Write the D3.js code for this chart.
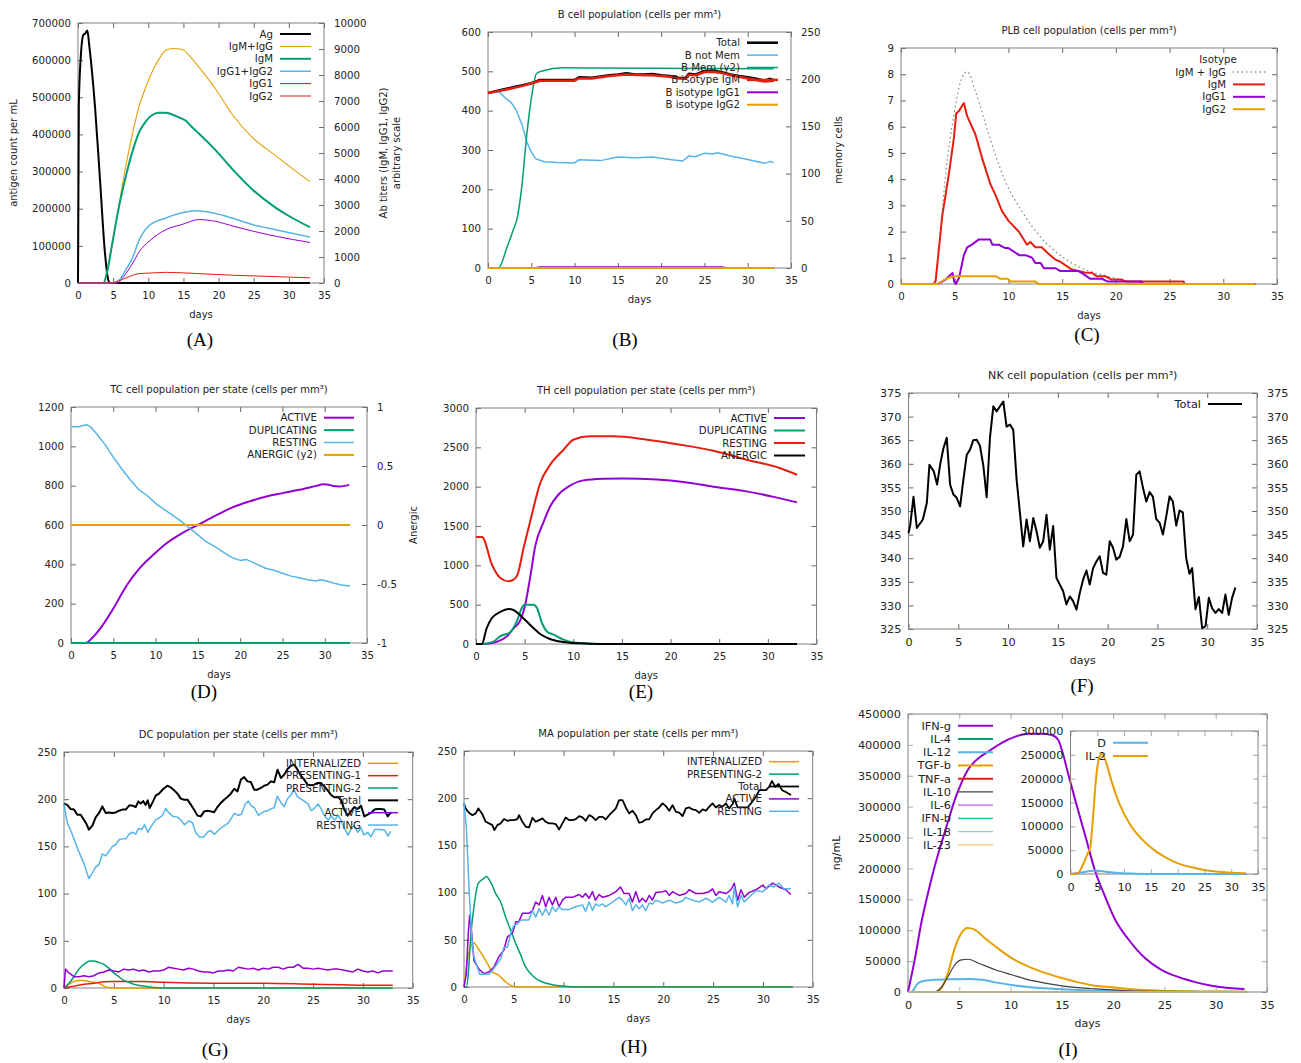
<!DOCTYPE html>
<html>
<head>
<meta charset="utf-8">
<script src="https://cdn.jsdelivr.net/npm/d3@7"></script>
<style>
  body { margin: 0; background: #fff; }
  text { font-family: "DejaVu Sans", sans-serif; fill: #222; }
  .letter { font-family: "Liberation Serif", serif; font-size: 19px; fill: #000; }
</style>
</head>
<body>
<div id="fig"></div>
<script>
// ---- ticks ----
const dayTicks = [0, 5, 10, 15, 20, 25, 30, 35];
const abLeftTicks = [0, 100000, 200000, 300000, 400000, 500000, 600000, 700000];
const abRightTicks = [0, 1000, 2000, 3000, 4000, 5000, 6000, 7000, 8000, 9000, 10000];
const bLeftTicks = [0, 100, 200, 300, 400, 500, 600];
const bRightTicks = [0, 50, 100, 150, 200, 250];
const plbTicks = [0, 1, 2, 3, 4, 5, 6, 7, 8, 9];
const tcTicks = [0, 200, 400, 600, 800, 1000, 1200];
const tcRightTicks = [-1, -0.5, 0, 0.5, 1];
const thTicks = [0, 500, 1000, 1500, 2000, 2500, 3000];
const nkTicks = [325, 330, 335, 340, 345, 350, 355, 360, 365, 370, 375];
const dcTicks = [0, 50, 100, 150, 200, 250];
const cyTicks = [0, 50000, 100000, 150000, 200000, 250000, 300000, 350000, 400000, 450000];
const insetTicks = [0, 50000, 100000, 150000, 200000, 250000, 300000];

// ---- (A) antigen / antibodies ----
const abAg = [[0,0],[0.12,480000],[0.4,610000],[0.76,668000],[1.05,672000],[1.33,680000],[1.6,640000],[2.42,475000],[3.13,278000],[3.84,80000],[4.3,9000],[4.55,0],[33,0]];
const abIgMIgG = [[0,0],[3.6,0],[4.2,500],[4.8,1400],[5.8,2950],[6.8,4500],[7.8,5800],[8.7,6800],[9.6,7500],[10.5,8100],[11.5,8600],[12.5,8950],[13.5,9020],[14.8,8980],[16,8700],[17.2,8300],[19.6,7450],[21.9,6500],[24.8,5600],[28.1,4900],[30.5,4400],[33,3900]];
const abIgM = [[0,0],[3.6,0],[4.2,500],[4.8,1400],[5.8,2900],[6.8,4100],[7.8,5100],[8.7,5800],[9.6,6200],[10.5,6450],[11.5,6550],[12.5,6550],[13.4,6480],[14.5,6350],[15.3,6250],[16.2,6000],[17.2,5750],[19.6,5100],[21.9,4400],[24.8,3600],[28.1,2900],[30.5,2500],[33,2150]];
const abIgG12 = [[0,0],[5,0],[6,150],[6.8,500],[7.8,1000],[8.7,1650],[10.1,2200],[12.5,2500],[14.8,2700],[16.8,2780],[19.1,2700],[21.9,2500],[24.8,2250],[28.1,2050],[33,1770]];
const abIgG1 = [[0,0],[5.6,0],[6.5,250],[7.8,770],[8.7,1200],[10.1,1600],[12.5,2050],[14.8,2250],[17.2,2440],[19.6,2370],[21.9,2200],[24.8,2000],[28.1,1800],[33,1560]];
const abIgG2 = [[0,0],[4.8,0],[5.8,80],[6.8,190],[8.7,360],[10.1,380],[12.5,410],[17.2,360],[21.9,300],[26.5,260],[33,200]];

// ---- (B) B cells ----
const bTotal = [[0,445],[1,450],[2,455],[3,460],[4,465],[5,470],[6,478],[8,478],[10,478],[10.5,485],[12,484],[13,487],[14,490],[15,492],[16,495],[17,492],[18,492],[19,493],[20,490],[21,488],[22,484],[22.8,483],[23.2,494],[24,492],[25,501],[26,502],[27,498],[28,492],[29,488],[30,485],[31,481],[32,476],[32.5,481],[33,478]];
const bNotMem = [[0,445],[1.3,448],[2,432],[2.7,420],[3.3,400],[4,360],[4.5,320],[5,295],[5.5,278],[6.5,270],[8,268],[10,267],[10.5,275],[13,273],[15,282],[17,280],[19,282],[21,276],[22.5,272],[23.2,285],[24,283],[25,292],[26,290],[26.5,293],[28,285],[30,276],[32,266],[32.6,271],[33,268]];
const bMem = [[0,0],[1.2,0],[2.2,22],[2.9,40],[3.4,54],[3.9,86],[4.5,143],[5.1,185],[5.6,206],[6.4,209],[8.6,212],[33,211]];
const bIgM = [[0,445],[1,449],[2,453],[3,458],[4,463],[5,469],[6,476],[8,476],[10,476],[10.5,482],[12,482],[13,485],[14,488],[15,490],[16,492],[18,490],[19,490],[20,488],[21,486],[22,482],[22.8,481],[23.2,491],[24,490],[25,498],[26,499],[27,496],[28,490],[29,486],[30,482],[31,478],[32,474],[33,476]];
const bIgG1 = [[0,0],[5.5,0],[6,2],[27,2],[27.5,0],[33,0]];
const bIgG2 = [[0,0],[33,0]];

// ---- (C) plasma B cells ----
const plbAll = [[0,0],[3.06,0],[3.5,1.2],[4.15,4.17],[4.92,6.45],[5.7,7.9],[6.16,8.1],[6.93,7.35],[8.17,5.7],[9.72,3.9],[11.26,2.77],[12.8,1.88],[14.36,1.25],[15.9,0.8],[17.45,0.5],[19,0.32],[20.5,0.17],[22.1,0.06],[23.7,0],[33,0]];
const plbIgM = [[0,0],[3.0,0],[3.22,0.1],[3.84,2.6],[4.46,4.2],[4.92,5.56],[5.14,6.5],[5.39,6.6],[5.85,6.9],[6.16,6.4],[6.93,5.7],[7.55,4.8],[8.33,3.8],[8.79,3.4],[9.41,2.77],[10.03,2.4],[10.96,2.0],[11.73,1.5],[12.04,1.6],[12.5,1.4],[13.1,1.4],[13.6,1.2],[14.36,0.93],[14.8,0.86],[15.9,0.55],[17.1,0.44],[17.8,0.42],[18.2,0.3],[19,0.3],[19.6,0.17],[20.5,0.17],[20.9,0.1],[26.3,0.1],[26.4,0],[33,0]];
const plbIgG1 = [[0,0],[3.4,0],[4.15,0.17],[4.8,0.42],[4.95,0.1],[5.1,0],[5.4,0.23],[5.85,1.1],[6.16,1.4],[6.6,1.5],[7.25,1.7],[8.3,1.7],[8.5,1.5],[9.1,1.5],[9.7,1.37],[10,1.37],[11,1.1],[11.6,1.1],[12.2,1.0],[12.5,0.8],[13,0.8],[13.3,0.6],[14.4,0.6],[14.8,0.5],[16.5,0.5],[17.1,0.35],[17.6,0.2],[18.7,0.2],[19.2,0.1],[22.4,0.1],[22.5,0],[33,0]];
const plbIgG2 = [[0,0],[3.4,0],[4.15,0.19],[4.9,0.3],[8.8,0.3],[9.25,0.2],[9.9,0.2],[10.2,0.1],[12.5,0.1],[12.8,0],[33,0]];

// ---- (D) TC cells ----
const tcActive = [[0,0],[1.7,0],[2.5,25],[3.4,70],[5,175],[6.6,294],[8.1,379],[9.7,447],[11.3,507],[13.2,560],[15.2,605],[17.2,650],[19.1,690],[21.1,720],[23.1,745],[25,762],[27,779],[29,799],[29.8,807],[30.5,805],[31,798],[31.7,796],[32.9,804]];
const tcDup = [[0,0],[33,0]];
const tcResting = [[0,1100],[1,1100],[1.3,1105],[1.8,1110],[2.3,1100],[3,1065],[4,1010],[5,945],[6,885],[7,830],[8,780],[9,750],[10,710],[11,680],[12,650],[13,620],[14,585],[15,550],[16,515],[17,490],[18,462],[19,435],[20,420],[20.7,425],[21.5,410],[22,400],[23,380],[24,370],[25,355],[26,340],[27,332],[28,322],[29,315],[29.5,322],[30,318],[31,305],[32,295],[33,290]];
const tcAnergic = [[0,0],[33,0]];

// ---- (E) TH cells ----
const thActive = [[0,0],[0.6,0],[1.5,10],[2.2,30],[3.2,100],[3.86,200],[4.55,300],[5.06,500],[5.57,850],[6.1,1250],[6.94,1550],[7.63,1750],[8.48,1900],[9.5,2000],[11.05,2080],[13.1,2100],[15.2,2105],[18.6,2090],[21.3,2060],[24.4,2000],[27.8,1940],[30.6,1870],[33,1800]];
const thDup = [[0,0],[0.6,0],[1.8,30],[2.5,100],[3.52,150],[4.2,290],[4.72,460],[4.96,500],[5.9,500],[6.26,460],[6.77,270],[7.29,160],[7.97,120],[9,55],[10,20],[11.7,5],[13,0],[33,0]];
const thResting = [[0,1360],[0.62,1360],[1.64,1008],[2.5,839],[3.35,797],[3.86,818],[4.27,881],[4.89,1220],[5.57,1559],[6.6,2046],[7.63,2280],[9,2470],[10,2597],[11.7,2640],[14.1,2640],[17.6,2597],[21,2534],[24.4,2457],[27.8,2343],[31.2,2237],[33,2152]];
const thAnergic = [[0,0],[0.6,0],[1.1,203],[1.64,330],[2.5,407],[3.35,445],[3.86,432],[4.55,364],[5.2,288],[5.9,203],[6.6,127],[7.6,64],[9,25],[10.7,8],[12.4,0],[33,0]];

// ---- (F) NK cells ----
const nkTotal = [[0,345.3],[0.17,347],[0.5,353],[0.84,346.4],[1.44,348.2],[1.84,351.7],[2.1,359.8],[2.54,358.4],[2.87,355.6],[3.21,360.2],[3.51,363.3],[3.84,365.5],[4.18,355.6],[4.51,353.5],[4.84,352.8],[5.18,351],[5.51,356.6],[5.85,361.9],[6.18,363],[6.51,365],[6.85,365.1],[7.18,363.8],[7.52,359.5],[7.85,352.9],[8.18,365.5],[8.52,372.2],[8.85,371.1],[9.19,372.2],[9.52,373.2],[9.85,367.9],[10.19,368.3],[10.52,367.2],[10.86,356.6],[11.19,349.6],[11.52,342.5],[11.86,348.2],[12.19,343.6],[12.53,348.5],[12.86,345.7],[13.19,342.2],[13.53,343.6],[13.86,349.2],[14.19,341.8],[14.53,346.8],[14.86,335.8],[15.2,334.4],[15.53,333],[15.86,330.2],[16.2,331.9],[16.53,330.9],[16.87,329.1],[17.2,332.6],[17.54,335.5],[17.87,337.4],[18.2,334.4],[18.54,337.9],[18.87,339.3],[19.2,340.4],[19.54,336.9],[19.87,336.5],[20.21,343.6],[20.54,342.2],[20.87,339.7],[21.21,340.3],[21.54,342.5],[21.88,348.3],[22.21,343.6],[22.55,345],[22.88,357.7],[23.21,358.4],[23.55,354.9],[23.88,352],[24.22,354],[24.55,353],[24.88,348.3],[25.22,347.5],[25.55,345],[25.89,348.9],[26.22,353.1],[26.55,352],[26.89,346.9],[27.22,350.1],[27.55,349.7],[27.89,340],[28.22,336.7],[28.49,337.9],[28.82,329.2],[29.16,331.8],[29.49,325.2],[29.83,325.6],[30.16,331.6],[30.49,329.4],[30.83,328.4],[31.16,329.2],[31.5,328.4],[31.83,332.3],[32.16,328],[32.5,331.6],[32.83,333.8]];

// ---- (G) DC ----
const dcInternalized = [[0,0],[0.5,4],[1,7],[1.5,8],[2,8],[2.5,7],[3,6],[3.5,5],[4,2],[4.5,0.5],[5,0],[33,0]];
const dcPresenting1 = [[0,0],[1,2],[2,4],[3,5],[4,6.5],[5,7],[8,7],[10,6],[15,5],[20,5],[25,4],[28,3.5],[30,3],[33,3]];
const dcPresenting2 = [[0,0],[0.5,5],[1,12],[1.5,20],[2,25],[2.6,28.5],[3,28.5],[3.5,27],[4,25],[4.5,21],[5,16],[5.5,12],[6,8],[6.5,6],[7,4],[8,2],[9,0.5],[10,0],[33,0]];
const dcTotal = [[0,195.3],[0.33,194],[0.67,189.6],[1,189],[1.34,183.6],[1.67,183.6],[2,178.3],[2.24,174],[2.5,167.7],[2.85,172],[3.18,180.8],[3.52,185.4],[3.85,192.4],[4.19,185.4],[4.52,186],[4.86,185.4],[5.19,186],[5.53,187.8],[5.86,189],[6.2,189],[6.53,193.2],[6.87,193.2],[7.2,191.7],[7.47,197.7],[7.7,195.3],[7.94,198],[8.2,194],[8.4,198.8],[8.6,190.7],[8.94,197.7],[9.2,203.7],[9.54,205.9],[9.95,210.8],[10.38,214.3],[10.7,212.6],[11.05,209.4],[11.39,205.9],[11.72,200.6],[12.06,199.5],[12.39,199.5],[12.73,194.2],[13.06,188.9],[13.4,182.6],[13.73,181.8],[14.07,187.1],[14.4,187.8],[14.74,187.1],[15.07,186.1],[15.4,191.7],[15.74,196],[16.07,199.5],[16.41,202.3],[16.75,205.9],[17.08,211.1],[17.41,208.3],[17.75,220.7],[18.08,223.5],[18.42,218.9],[18.75,218.2],[19.09,210.1],[19.42,210.1],[19.76,211.9],[20.09,214.3],[20.43,215.4],[20.76,218.9],[21.1,217.9],[21.43,231.3],[21.77,222.5],[22.1,226],[22.44,232],[22.77,235.5],[23.11,236.6],[23.44,231.3],[23.78,224.9],[24.11,220.7],[24.45,215.4],[24.78,214.7],[25.12,215.4],[25.45,217.2],[25.79,217.2],[26.12,213.6],[26.46,209.4],[26.79,204.8],[27.13,202],[27.46,202.3],[27.8,199.5],[28.13,189],[28.47,182.6],[28.8,187.1],[29.14,191.7],[29.47,189.6],[29.81,193.2],[30.14,181.8],[30.48,183.6],[30.81,185.4],[31.15,189],[31.48,189.6],[31.82,189.6],[32.15,189],[32.49,181.8],[32.82,186]];
const dcActive = [[0,0],[0.15,20],[0.5,16],[1,12],[1.5,12],[2,13],[2.5,12],[3,13],[3.5,16],[4,17],[4.5,19],[5,18],[5.5,17],[6,20],[6.5,19],[7,20],[7.5,18],[8,19],[8.5,17],[9,18],[9.5,18],[10,19],[10.5,22],[11,21],[11.5,20],[12,19],[12.5,21],[13,20],[13.5,18],[14,17],[14.5,17],[15,16],[15.5,18],[16,18],[16.5,19],[17,18],[17.5,22],[18,21],[18.5,20],[19,21],[19.5,19],[20,21],[20.5,20],[21,22],[21.5,22],[22,20],[22.5,22],[23,22],[23.5,25],[24,21],[24.5,21],[25,20],[25.5,21],[26,20],[26.5,19],[27,20],[27.5,20],[28,19],[28.5,18],[29,17],[29.5,20],[30,18],[30.5,17],[31,18],[31.5,16],[32,18],[33,18]];
const dcResting = [[0,195],[0.33,175],[0.67,167],[1,158],[1.34,148],[1.67,140],[2,132],[2.3,122],[2.5,116],[2.85,122],[3.18,128],[3.52,131],[3.85,142],[4.19,140],[4.52,145],[4.86,150],[5.19,152],[5.53,157],[5.86,158],[6.2,158],[6.53,163],[6.87,165],[7.2,163],[7.47,169],[7.8,168],[8.1,173],[8.4,165],[8.8,172],[9.2,178],[9.54,180],[9.9,183],[10.2,190],[10.5,186],[10.9,182],[11.4,181],[11.8,177],[12.1,173],[12.5,177],[12.9,175],[13.2,165],[13.6,160],[14,160],[14.4,165],[14.7,167],[15.1,163],[15.4,166],[15.8,170],[16.1,172],[16.5,175],[16.8,180],[17.1,185],[17.5,183],[17.8,184],[18.2,195],[18.5,198],[18.8,193],[19.1,191],[19.5,183],[19.8,185],[20.1,187],[20.5,188],[20.8,190],[21.1,191],[21.4,203],[21.8,196],[22.1,192],[22.4,200],[22.8,205],[23.1,210],[23.4,203],[23.8,200],[24.1,198],[24.5,195],[24.8,188],[25.1,190],[25.5,195],[25.8,190],[26.1,183],[26.5,178],[26.8,182],[27.2,178],[27.5,183],[27.8,178],[28.1,170],[28.5,162],[28.8,168],[29.1,172],[29.5,165],[29.8,170],[30.1,162],[30.5,165],[30.8,160],[31.2,168],[31.5,168],[31.8,168],[32.2,167],[32.5,161],[32.8,166]];

// ---- (H) macrophages ----
const maInternalized = [[0,0],[0.33,28],[0.57,39],[1,47],[1.34,42],[1.84,34],[2.34,25],[2.85,16],[3.35,13.4],[3.68,10.6],[4.19,5.3],[4.69,1.8],[5.19,0],[33,0]];
const maPresenting2 = [[0,0],[0.23,0],[0.43,14],[0.67,53],[1,85],[1.44,110],[2,115],[2.24,117],[2.68,111],[3.18,99],[3.68,90],[4.19,74],[4.69,60],[5.19,46],[5.69,34],[6.2,21],[6.7,14],[7.2,9],[7.87,5.3],[8.87,2.5],[9.88,1],[11.55,0],[33,0]];
const maTotal = [[0,194.5],[0.17,189],[0.5,184.6],[0.84,182],[1.17,183.9],[1.44,189.2],[1.84,183.2],[2.18,175],[2.51,173.3],[2.85,171.5],[3.05,166.2],[3.35,171.5],[3.68,173.3],[4.02,177.9],[4.35,176.1],[4.69,176.8],[5.02,176.8],[5.36,177.9],[5.53,182.1],[5.86,175],[6.2,169.7],[6.53,169],[6.87,179.3],[7.2,175],[7.54,176.8],[7.87,178.6],[8.2,175],[8.54,173.3],[8.87,173.3],[9.21,172.6],[9.54,166.9],[9.88,173.3],[10.21,179.6],[10.55,176.8],[10.88,176.8],[11.22,177.9],[11.55,181],[11.89,179.6],[12.22,176.1],[12.56,182.1],[12.89,180.3],[13.23,176.8],[13.56,180.3],[13.9,180.3],[14.23,177.5],[14.57,182.1],[14.9,185.6],[15.24,189.2],[15.57,198],[15.91,198],[16.24,190.2],[16.58,183.9],[16.91,186.7],[17.25,182.1],[17.58,174],[17.92,175],[18.25,177.5],[18.59,177.5],[18.92,183.9],[19.26,187.4],[19.59,190.2],[19.93,194.5],[20.26,191.6],[20.6,186.7],[20.93,192.7],[21.27,185.6],[21.6,184.6],[21.94,181],[22.27,189.2],[22.61,190.2],[22.94,188.1],[23.28,187.4],[23.61,184.6],[23.95,188.1],[24.28,186.7],[24.62,191],[24.95,194.5],[25.28,190.2],[25.62,192.7],[25.95,191],[26.29,194.5],[26.62,189.2],[26.96,193.8],[27.13,199.8],[27.46,190.2],[27.8,190.2],[28.13,190.2],[28.47,190.2],[28.8,194.5],[29.3,201.5],[29.64,208.6],[29.97,208.6],[30.31,208.6],[30.64,212.2],[30.91,218.2],[31.25,212.2],[31.58,215],[31.92,208.6],[32.25,206.8],[32.82,203.3]];
const maActive = [[0,0],[0.23,14],[0.43,57],[0.57,76],[0.77,57],[1,28],[1.5,19],[2,14],[2.5,16],[3,21],[3.5,32],[4,39],[4.35,53],[4.86,57],[5.2,69],[5.5,69],[5.86,78],[6.5,78],[6.87,81],[7.2,90],[7.54,87],[7.87,97],[8.2,85],[8.54,95],[8.87,87],[9.21,95],[9.54,85],[9.88,92],[10.2,95],[10.9,95],[11.55,98],[11.9,95],[12.2,99],[12.56,94],[12.9,101],[13.2,92],[13.56,98],[13.9,95],[14.57,97],[15.24,101],[15.7,106],[16.07,99],[16.58,99],[16.9,90],[17.25,101],[17.58,90],[17.9,94],[18.25,90],[18.6,97],[18.9,92],[19.26,100],[19.93,101],[20.26,102],[20.6,97],[20.93,101],[21.6,97],[22.27,99],[22.6,103],[23.28,99],[23.95,99],[24.6,101],[24.95,104],[25.28,97],[25.6,101],[26.3,99],[26.8,103],[27.13,110],[27.46,92],[27.8,103],[28.13,95],[28.6,100],[29.3,103],[30,108],[30.3,104],[30.97,110],[31.6,106],[32.3,103],[32.8,98]];
const maResting = [[0,195],[0.23,170],[0.5,106],[0.77,53],[1,32],[1.34,21],[1.57,13.4],[2.5,13.4],[2.85,17.7],[3.35,24.8],[3.7,30],[4,42],[4.35,42],[4.7,57],[5,65],[5.36,67],[5.7,71],[6.5,71],[6.87,81],[7.2,74],[7.54,83],[7.87,76],[8.2,83],[8.54,76],[8.87,85],[9.21,80],[9.54,85],[9.88,82],[10.55,82],[11.2,85],[11.9,87],[12.2,80],[12.56,90],[12.9,81],[13.2,88],[13.56,86],[13.9,88],[14.2,85],[14.9,90],[15.57,95],[15.9,92],[16.24,87],[16.58,94],[16.9,81],[17.25,87],[17.58,83],[17.9,87],[18.25,81],[18.6,89],[18.9,88],[19.26,92],[19.93,89],[20.6,92],[21.27,89],[21.94,91],[22.27,95],[22.94,92],[23.6,90],[24.28,94],[24.95,90],[25.6,95],[26.3,90],[26.6,97],[26.96,88],[27.13,106],[27.46,85],[27.8,97],[28.13,90],[28.6,95],[29.3,102],[30,101],[30.6,108],[31.1,106],[31.6,110],[32.1,104],[32.8,104]];

// ---- (I) cytokines ----
const cyIFNg = [[0,0],[0.65,52000],[1.3,112000],[1.95,160000],[2.6,203000],[3.26,241000],[3.9,276000],[4.56,311000],[5.2,338000],[5.86,360000],[6.84,378000],[7.8,389000],[9.1,403000],[10.4,413000],[11.7,418000],[13,418000],[14,416000],[14.65,408000],[15.1,386000],[15.6,354000],[16.3,311000],[17.3,252000],[18.2,198000],[19.2,155000],[20.2,117000],[21.5,85000],[23.1,55000],[24.7,36000],[26.4,24000],[28,16000],[29.6,10000],[31.3,6500],[32.8,5000]];
const cyIL4 = [[0,0],[33,0]];
const cyIL12 = [[0,0],[0.3,0],[1,14500],[1.6,18300],[2.6,20000],[3.9,20500],[5.86,21000],[7.2,20000],[8.5,15600],[10.1,11300],[11.7,8000],[13.35,6000],[15,4300],[18.2,2000],[21.5,1000],[33,300]];
const cyTGFb = [[0,0],[2.6,0],[3.26,6500],[3.9,31000],[4.56,71000],[5.2,95000],[5.8,103500],[6.5,101000],[7.5,87000],[8.5,74000],[10.1,55000],[11.7,41500],[13.35,31000],[15,22600],[16.6,15600],[18.2,10200],[19.9,7500],[21.5,4800],[24.7,2000],[28,1000],[33,500]];
const cyTNFa = [[0,0],[33,0]];
const cyIL10 = [[0,0],[2.6,0],[3.26,8000],[3.9,25000],[4.56,44000],[5.2,52000],[5.86,53000],[6.84,47000],[8.5,36000],[10.1,28000],[11.7,20000],[13.35,14500],[15,10000],[16.6,7000],[18.2,5000],[21.5,2000],[24.7,1000],[33,300]];
const cyIL6 = [[0,0],[33,0]];
const cyIFNb = [[0,0],[33,0]];
const cyIL18 = [[0,0],[33,0]];
const cyIL23 = [[0,0],[33,0]];
const insetD = [[0,0],[1.7,2800],[2.9,4900],[4.2,7000],[4.8,7000],[6.6,4900],[9.1,2000],[12.2,700],[16,0],[33,0]];
const insetIL2 = [[0,0],[1.37,1400],[2.3,19000],[3.2,43000],[3.7,57000],[4.16,113000],[4.8,204000],[5.4,246000],[5.9,253000],[6.5,239000],[7.6,197000],[9.1,148000],[11,106000],[13.5,71000],[16,47000],[19.7,24000],[23.4,12000],[27.1,5000],[32.7,1400]];

const svg = d3.select("#fig").append("svg").attr("width", 1301).attr("height", 1063);

const BLACK = "#000000", ORANGE = "#e69f00", GREEN = "#009e73", BLUE = "#56b4e9",
      PURPLE = "#9400d3", RED = "#e51e10", GRAY = "#888888";
const smooth = d3.curveMonotoneX, sharp = d3.curveLinear;

function drawPanel(c) {
  var x = d3.scaleLinear().domain([0, 35]).range([c.left, c.right]);
  var y = d3.scaleLinear().domain(c.yDomain).range([c.bottom, c.top]);
  var y2 = c.y2Domain ? d3.scaleLinear().domain(c.y2Domain).range([c.bottom, c.top]) : null;
  var g = svg.append("g");
  var ax = g.append("g");

  ax.append("g").attr("transform", "translate(0," + c.bottom + ")")
    .call(d3.axisBottom(x).tickValues(dayTicks).tickSize(-5).tickPadding(9).tickFormat(String));
  ax.append("g").attr("transform", "translate(0," + c.top + ")")
    .call(d3.axisTop(x).tickValues(dayTicks).tickSize(-5).tickFormat(""));
  ax.append("g").attr("transform", "translate(" + c.left + ",0)")
    .call(d3.axisLeft(y).tickValues(c.yTicks).tickSize(-5).tickPadding(c.padL || 7).tickFormat(String));
  if (y2) {
    ax.append("g").attr("transform", "translate(" + c.right + ",0)")
      .call(d3.axisRight(y2).tickValues(c.y2Ticks).tickSize(-5).tickPadding(10).tickFormat(String));
  } else {
    ax.append("g").attr("transform", "translate(" + c.right + ",0)")
      .call(d3.axisRight(y).tickValues(c.yTicks).tickSize(-5).tickFormat(""));
  }
  ax.selectAll(".domain").remove();
  ax.selectAll(".tick text").attr("font-size", c.fs).attr("font-family", "DejaVu Sans").attr("fill", "#222");
  ax.selectAll(".tick line").attr("stroke", c.tickColor || "#666");

  g.append("rect")
    .attr("x", c.left).attr("y", c.top)
    .attr("width", c.right - c.left).attr("height", c.bottom - c.top)
    .attr("fill", "none").attr("stroke", "#808080").attr("stroke-width", 1);

  c.series.forEach(function (s) {
    var sy = s.y2 ? y2 : y;
    var line = d3.line()
      .x(function (d) { return x(d[0]); })
      .y(function (d) { return sy(d[1]); })
      .curve(s.curve || sharp);
    g.append("path").datum(s.data)
      .attr("d", line)
      .attr("fill", "none")
      .attr("stroke", s.color)
      .attr("stroke-width", s.w || 1.5)
      .attr("stroke-linejoin", "round")
      .attr("stroke-linecap", s.dash ? "round" : "butt")
      .attr("stroke-dasharray", s.dash || null);
  });

  // legend
  var L = c.legend;
  if (L) {
    if (L.header) {
      g.append("text").attr("x", L.hx).attr("y", L.y - L.dy).attr("dy", "0.35em")
        .attr("text-anchor", "middle").attr("font-size", L.fs).text(L.header);
    }
    c.series.forEach(function (s, i) {
      var yy = L.y + i * L.dy;
      g.append("text").attr("x", L.x).attr("y", yy).attr("dy", "0.35em")
        .attr("text-anchor", "end").attr("font-size", L.fs).text(s.name);
      g.append("line").attr("x1", L.x + 7).attr("x2", L.x + 7 + L.len)
        .attr("y1", yy).attr("y2", yy)
        .attr("stroke", s.color).attr("stroke-width", s.w || 1.5)
        .attr("stroke-linecap", s.dash ? "round" : "butt")
        .attr("stroke-dasharray", s.dash || null);
    });
  }

  if (c.title) {
    g.append("text").attr("x", (c.left + c.right) / 2).attr("y", c.top - 18).attr("dy", "0.35em")
      .attr("text-anchor", "middle").attr("font-size", c.titleFs || 10).text(c.title);
  }
  if (c.xLabel !== false) {
    g.append("text").attr("x", (c.left + c.right) / 2).attr("y", c.bottom + 31).attr("dy", "0.35em")
      .attr("text-anchor", "middle").attr("font-size", c.labelFs || 10).text("days");
  }
  (c.yLabels || []).forEach(function (l) {
    g.append("text").attr("transform", "translate(" + l[0] + "," + l[1] + ") rotate(-90)")
      .attr("dy", "0.35em").attr("text-anchor", "middle").attr("font-size", c.labelFs || 10).text(l[2]);
  });
  if (c.letter) {
    svg.append("text").attr("class", "letter").attr("x", c.letter[0]).attr("y", c.letter[1])
      .attr("text-anchor", "middle").text(c.letter[2]);
  }
}

drawPanel({
  left: 78, right: 324, top: 23, bottom: 283, fs: 10.2,
  yDomain: [0, 700000], yTicks: abLeftTicks, y2Domain: [0, 10000], y2Ticks: abRightTicks,
  series: [
    { name: "Ag", data: abAg, color: BLACK, w: 2, curve: smooth },
    { name: "IgM+IgG", data: abIgMIgG, color: ORANGE, w: 1.1, y2: true, curve: smooth },
    { name: "IgM", data: abIgM, color: GREEN, w: 2, y2: true, curve: smooth },
    { name: "IgG1+IgG2", data: abIgG12, color: BLUE, w: 1.5, y2: true, curve: smooth },
    { name: "IgG1", data: abIgG1, color: PURPLE, w: 1, y2: true, curve: smooth },
    { name: "IgG2", data: abIgG2, color: RED, w: 1, y2: true, curve: smooth }
  ],
  legend: { x: 273, y: 34, dy: 12.4, len: 31, fs: 10.2 },
  yLabels: [[13, 153, "antigen count per mL"], [383, 153, "Ab titers (IgM, IgG1, IgG2)"], [396, 153, "arbitrary scale"]],
  letter: [200, 346, "(A)"]
});

drawPanel({
  left: 488, right: 791, top: 32, bottom: 268, fs: 10.2,
  yDomain: [0, 600], yTicks: bLeftTicks, y2Domain: [0, 250], y2Ticks: bRightTicks,
  title: "B cell population (cells per mm³)",
  series: [
    { name: "Total", data: bTotal, color: BLACK, w: 2.5 },
    { name: "B not Mem", data: bNotMem, color: BLUE, w: 1.5 },
    { name: "B Mem (y2)", data: bMem, color: GREEN, w: 1.5, y2: true, curve: smooth },
    { name: "B isotype IgM", data: bIgM, color: RED, w: 2.5 },
    { name: "B isotype IgG1", data: bIgG1, color: PURPLE, w: 2 },
    { name: "B isotype IgG2", data: bIgG2, color: ORANGE, w: 2 }
  ],
  legend: { x: 740, y: 42.7, dy: 12.4, len: 31, fs: 10.2 },
  yLabels: [[838, 150, "memory cells"]],
  letter: [625, 346, "(B)"]
});

drawPanel({
  left: 901, right: 1277, top: 48, bottom: 284, fs: 10.2,
  yDomain: [0, 9], yTicks: plbTicks,
  title: "PLB cell population (cells per mm³)",
  series: [
    { name: "IgM + IgG", data: plbAll, color: GRAY, w: 1.3, dash: "0.5,4", curve: smooth },
    { name: "IgM", data: plbIgM, color: RED, w: 2 },
    { name: "IgG1", data: plbIgG1, color: PURPLE, w: 2 },
    { name: "IgG2", data: plbIgG2, color: ORANGE, w: 2 }
  ],
  legend: { x: 1226, y: 72, dy: 12.4, len: 32, fs: 10.2, header: "Isotype", hx: 1218 },
  letter: [1087, 341, "(C)"]
});

drawPanel({
  left: 71, right: 367, top: 407, bottom: 643, fs: 10.2,
  yDomain: [0, 1200], yTicks: tcTicks, y2Domain: [-1, 1], y2Ticks: tcRightTicks,
  title: "TC cell population per state (cells per mm³)",
  series: [
    { name: "ACTIVE", data: tcActive, color: PURPLE, w: 2, curve: smooth },
    { name: "DUPLICATING", data: tcDup, color: GREEN, w: 2 },
    { name: "RESTING", data: tcResting, color: BLUE, w: 1.5 },
    { name: "ANERGIC (y2)", data: tcAnergic, color: ORANGE, w: 2, y2: true }
  ],
  legend: { x: 317, y: 417.7, dy: 12.4, len: 30, fs: 10.2 },
  yLabels: [[413, 525, "Anergic"]],
  letter: [204, 698, "(D)"]
});

drawPanel({
  left: 476, right: 816.5, top: 408, bottom: 644, fs: 10.2,
  yDomain: [0, 3000], yTicks: thTicks,
  title: "TH cell population per state (cells per mm³)",
  series: [
    { name: "ACTIVE", data: thActive, color: PURPLE, w: 2, curve: smooth },
    { name: "DUPLICATING", data: thDup, color: GREEN, w: 2, curve: smooth },
    { name: "RESTING", data: thResting, color: RED, w: 2, curve: smooth },
    { name: "ANERGIC", data: thAnergic, color: BLACK, w: 2, curve: smooth }
  ],
  legend: { x: 767, y: 418, dy: 12.5, len: 31, fs: 10.2 },
  letter: [641, 698, "(E)"]
});

drawPanel({
  left: 908.5, right: 1257, top: 393, bottom: 629, fs: 11.3, titleFs: 11.1, labelFs: 11,
  yDomain: [325, 375], yTicks: nkTicks, y2Domain: [325, 375], y2Ticks: nkTicks,
  title: "NK cell population (cells per mm³)",
  series: [
    { name: "Total", data: nkTotal, color: BLACK, w: 2 }
  ],
  legend: { x: 1201, y: 404, dy: 12.4, len: 34, fs: 11.3 },
  letter: [1082, 692, "(F)"]
});

drawPanel({
  left: 64, right: 412.7, top: 752, bottom: 988, fs: 10.2,
  yDomain: [0, 250], yTicks: dcTicks,
  title: "DC population per state (cells per mm³)",
  series: [
    { name: "INTERNALIZED", data: dcInternalized, color: ORANGE, w: 1.5, curve: smooth },
    { name: "PRESENTING-1", data: dcPresenting1, color: RED, w: 1.5, curve: smooth },
    { name: "PRESENTING-2", data: dcPresenting2, color: GREEN, w: 1.5, curve: smooth },
    { name: "Total", data: dcTotal, color: BLACK, w: 2 },
    { name: "ACTIVE", data: dcActive, color: PURPLE, w: 1.5 },
    { name: "RESTING", data: dcResting, color: BLUE, w: 1.5 }
  ],
  legend: { x: 361, y: 763.3, dy: 12.35, len: 30, fs: 10.2 },
  letter: [215, 1056, "(G)"]
});

drawPanel({
  left: 464, right: 812.7, top: 751, bottom: 987, fs: 10.2,
  yDomain: [0, 250], yTicks: dcTicks,
  title: "MA population per state (cells per mm³)",
  series: [
    { name: "INTERNALIZED", data: maInternalized, color: ORANGE, w: 1.5, curve: smooth },
    { name: "PRESENTING-2", data: maPresenting2, color: GREEN, w: 1.5, curve: smooth },
    { name: "Total", data: maTotal, color: BLACK, w: 1.8 },
    { name: "ACTIVE", data: maActive, color: PURPLE, w: 1.5 },
    { name: "RESTING", data: maResting, color: BLUE, w: 1.5 }
  ],
  legend: { x: 762, y: 761.7, dy: 12.4, len: 30, fs: 10.2 },
  letter: [634, 1053, "(H)"]
});

drawPanel({
  left: 908, right: 1267, top: 714, bottom: 992, fs: 11.3, labelFs: 11, padL: 7,
  yDomain: [0, 450000], yTicks: cyTicks, tickColor: "#aaa",
  series: [
    { name: "IFN-g", data: cyIFNg, color: PURPLE, w: 2, curve: smooth },
    { name: "IL-4", data: cyIL4, color: GREEN, w: 2 },
    { name: "IL-12", data: cyIL12, color: BLUE, w: 2, curve: smooth },
    { name: "TGF-b", data: cyTGFb, color: ORANGE, w: 2, curve: smooth },
    { name: "TNF-a", data: cyTNFa, color: RED, w: 2 },
    { name: "IL-10", data: cyIL10, color: "#404040", w: 1.2, curve: smooth },
    { name: "IL-6", data: cyIL6, color: "#c060e8", w: 1.2 },
    { name: "IFN-b", data: cyIFNb, color: "#30b888", w: 1.2 },
    { name: "IL-18", data: cyIL18, color: "#8ccbf0", w: 1.2 },
    { name: "IL-23", data: cyIL23, color: "#f2c060", w: 1.2 }
  ],
  legend: { x: 951, y: 725.7, dy: 13.25, len: 35, fs: 11.3 },
  yLabels: [[836, 853, "ng/mL"]],
  letter: [1068, 1056, "(I)"]
});

drawPanel({
  left: 1070.5, right: 1258, top: 731, bottom: 874, fs: 11.3, xLabel: false,
  yDomain: [0, 300000], yTicks: insetTicks, tickColor: "#aaa",
  series: [
    { name: "D", data: insetD, color: BLUE, w: 2, curve: smooth },
    { name: "IL-2", data: insetIL2, color: ORANGE, w: 2, curve: smooth }
  ],
  legend: { x: 1106, y: 742.7, dy: 13.3, len: 35, fs: 11.3 }
});
</script>
</body>
</html>
